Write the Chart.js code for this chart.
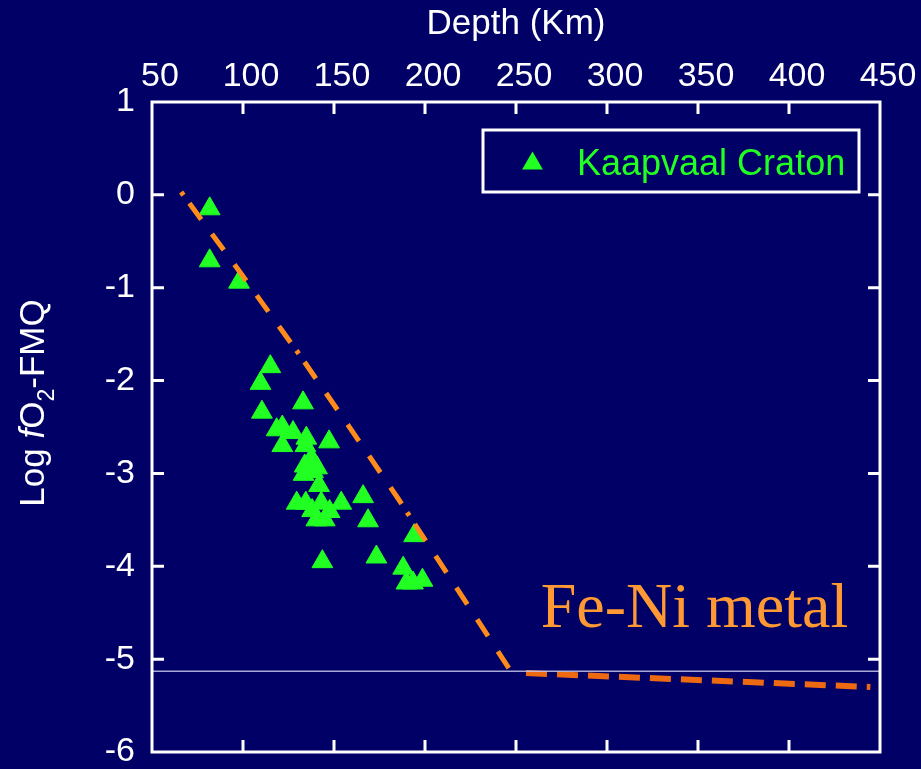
<!DOCTYPE html>
<html>
<head>
<meta charset="utf-8">
<script src="https://cdn.jsdelivr.net/npm/chart.js@4.4.1/dist/chart.umd.min.js"></script>
<style>
    html, body { margin: 0; padding: 0; background: #000066; }
    #wrap { width: 921px; height: 769px; }
</style>
</head>
<body>
<div id="wrap"><canvas id="chartCanvasId" width="921" height="769"></canvas></div>
<script>
"use strict";

// Kaapvaal Craton samples: depth (km) and log fO2 relative to FMQ
const kaapvaalDepth = [
    81.7, 81.7, 97.8, 115, 109.6, 133, 110.4, 121.6, 118.5, 127.5,
    121.6, 134.8, 134.3, 147.3, 137.6, 133.9, 140.7, 138.5, 141.8, 133.3,
    129.5, 134.5, 143, 154, 166, 168.7, 140.3, 144.9, 138, 147.6,
    143.6, 173.3, 194, 188, 189.8, 193.4, 198.6,
];
const kaapvaalLogFO2 = [
    -0.15, -0.71, -0.94, -1.85, -2.03, -2.24, -2.34, -2.50, -2.53, -2.56,
    -2.70, -2.62, -2.70, -2.66, -2.84, -2.92, -2.94, -2.98, -3.13, -3.01,
    -3.32, -3.32, -3.32, -3.32, -3.25, -3.51, -3.50, -3.50, -3.40, -3.41,
    -3.95, -3.90, -3.67, -4.02, -4.18, -4.18, -4.15,
];

// Fe-Ni metal saturation curve, shallow (dash-dot) and deep (dashed) parts
const metalCurveDepth = [66, 99, 130.6, 158.1, 185.2, 217.6, 247.5];
const metalCurveLogFO2 = [0.03, -0.85, -1.71, -2.49, -3.27, -4.24, -5.14];
const deepCurveDepth = [255.5, 444.7];
const deepCurveLogFO2 = [-5.15, -5.30];

// thin horizontal reference level
const referenceDepth = [50, 450];
const referenceLogFO2 = [-5.13, -5.13];

const depthRange = [50, 450];
const logFO2Range = [-6, 1];

const FONT = "'Liberation Sans', Arial, Helvetica, sans-serif";
const GREEN = "#22ff22";

function toPoints(xs, ys) {
    return xs.map((x, i) => ({ x: x, y: ys[i] }));
}

const backgroundPlugin = {
    id: "background",
    beforeDraw(chart) {
        const ctx = chart.ctx;
        ctx.save();
        ctx.fillStyle = "#000066";
        ctx.fillRect(0, 0, chart.width, chart.height);
        ctx.restore();
    },
};

const framePlugin = {
    id: "frame",
    afterDatasetsDraw(chart) {
        const { ctx, chartArea: a, scales: { x, y } } = chart;
        const len = 12;
        ctx.save();
        ctx.strokeStyle = "#ffffff";
        ctx.lineWidth = 3;
        ctx.strokeRect(a.left, a.top, a.right - a.left, a.bottom - a.top);
        ctx.beginPath();
        x.ticks.forEach(t => {
            if (t.value <= x.min || t.value >= x.max) return;
            const px = x.getPixelForValue(t.value);
            ctx.moveTo(px, a.top);
            ctx.lineTo(px, a.top + len);
            ctx.moveTo(px, a.bottom);
            ctx.lineTo(px, a.bottom - len);
        });
        y.ticks.forEach(t => {
            if (t.value <= y.min || t.value >= y.max) return;
            const py = y.getPixelForValue(t.value);
            ctx.moveTo(a.left, py);
            ctx.lineTo(a.left + len, py);
            ctx.moveTo(a.right, py);
            ctx.lineTo(a.right - len, py);
        });
        ctx.stroke();

        // region label
        ctx.fillStyle = "#ff9933";
        ctx.font = "64px 'Liberation Serif', 'Times New Roman', serif";
        ctx.textBaseline = "alphabetic";
        ctx.textAlign = "left";
        ctx.fillText("Fe-Ni metal", x.getPixelForValue(263.6), y.getPixelForValue(-4.656));
        ctx.restore();
    },
};

const yTitlePlugin = {
    id: "yTitle",
    afterDraw(chart) {
        const ctx = chart.ctx;
        const size = 35;
        const parts = [
            { text: "Log ", font: `${size}px ${FONT}`, dy: 0 },
            { text: "f", font: `italic ${size}px ${FONT}`, dy: 0 },
            { text: "O", font: `${size}px ${FONT}`, dy: 0 },
            { text: "2", font: `${Math.round(size * 0.65)}px ${FONT}`, dy: 10 },
            { text: "-FMQ", font: `${size}px ${FONT}`, dy: 0 },
        ];
        ctx.save();
        let total = 0;
        parts.forEach(p => {
            ctx.font = p.font;
            p.w = ctx.measureText(p.text).width;
            total += p.w;
        });
        ctx.translate(44, 403);
        ctx.rotate(-Math.PI / 2);
        ctx.fillStyle = "#ffffff";
        ctx.textBaseline = "alphabetic";
        let cx = -total / 2;
        parts.forEach(p => {
            ctx.font = p.font;
            ctx.fillText(p.text, cx, p.dy);
            cx += p.w;
        });
        ctx.restore();
    },
};

const legendPlugin = {
    id: "legendBox",
    afterDraw(chart) {
        const ctx = chart.ctx;
        const ds = chart.data.datasets[1];
        ctx.save();
        ctx.strokeStyle = "#ffffff";
        ctx.lineWidth = 3;
        ctx.strokeRect(483, 130, 376, 62);
        const cx = 532.5, cy = 163.5, r = 12;
        ctx.fillStyle = ds.backgroundColor;
        ctx.beginPath();
        ctx.moveTo(cx, cy - r);
        ctx.lineTo(cx + r * Math.sin(Math.PI * 2 / 3), cy + r / 2);
        ctx.lineTo(cx - r * Math.sin(Math.PI * 2 / 3), cy + r / 2);
        ctx.closePath();
        ctx.fill();
        ctx.font = `36px ${FONT}`;
        ctx.textBaseline = "alphabetic";
        ctx.fillText(ds.label, 577, 175);
        ctx.restore();
    },
};

function initialize() {
    const chartCanvas = document.getElementById("chartCanvasId");
    const chartContext = chartCanvas.getContext("2d");

    new Chart(chartContext, {
        type: "scatter",
        data: {
            datasets: [
                {
                    label: "Fe-Ni metal (shallow)",
                    data: toPoints(metalCurveDepth, metalCurveLogFO2),
                    showLine: true,
                    borderColor: "#ff8c1a",
                    borderWidth: 5,
                    borderDash: [4, 10, 20, 18, 20, 18, 20, 18, 20, 18, 20, 10],
                    borderCapStyle: "butt",
                    pointRadius: 0,
                    tension: 0,
                    order: 1,
                },
                {
                    label: "Kaapvaal Craton",
                    data: toPoints(kaapvaalDepth, kaapvaalLogFO2),
                    pointStyle: "triangle",
                    pointRadius: 12,
                    backgroundColor: GREEN,
                    borderColor: GREEN,
                    borderWidth: 1,
                    order: 2,
                },
                {
                    label: "Fe-Ni metal (deep)",
                    data: toPoints(deepCurveDepth, deepCurveLogFO2),
                    showLine: true,
                    borderColor: "#ee6a12",
                    borderWidth: 6,
                    borderDash: [21, 10],
                    borderCapStyle: "butt",
                    pointRadius: 0,
                    order: 3,
                },
                {
                    label: "reference",
                    data: toPoints(referenceDepth, referenceLogFO2),
                    showLine: true,
                    borderColor: "rgba(200, 200, 235, 0.85)",
                    borderWidth: 1.5,
                    pointRadius: 0,
                    order: 0,
                },
            ],
        },
        options: {
            responsive: false,
            animation: false,
            events: [],
            layout: {
                padding: { left: 0, top: 0, right: 41, bottom: 0 },
            },
            plugins: {
                legend: { display: false },
                tooltip: { enabled: false },
            },
            scales: {
                x: {
                    type: "linear",
                    position: "top",
                    min: depthRange[0],
                    max: depthRange[1],
                    grid: { display: false, drawTicks: false },
                    border: { display: false },
                    ticks: {
                        stepSize: 50,
                        color: "#ffffff",
                        font: { family: FONT, size: 34 },
                        padding: 5,
                        labelOffset: 8,
                        maxRotation: 0,
                        autoSkip: false,
                    },
                    title: {
                        display: true,
                        text: "Depth (Km)",
                        color: "#ffffff",
                        font: { family: FONT, size: 35 },
                        padding: { top: 3, bottom: 0 },
                    },
                    afterFit: scale => { scale.height = 102; },
                },
                y: {
                    type: "linear",
                    min: logFO2Range[0],
                    max: logFO2Range[1],
                    grid: { display: false, drawTicks: false },
                    border: { display: false },
                    ticks: {
                        stepSize: 1,
                        color: "#ffffff",
                        font: { family: FONT, size: 34 },
                        padding: 17,
                    },
                    afterFit: scale => {
                        scale.width = 152;
                        scale.paddingTop = 0;
                        scale.paddingBottom = 17;
                    },
                },
            },
        },
        plugins: [backgroundPlugin, framePlugin, yTitlePlugin, legendPlugin],
    });
}

initialize();
</script>
</body>
</html>
